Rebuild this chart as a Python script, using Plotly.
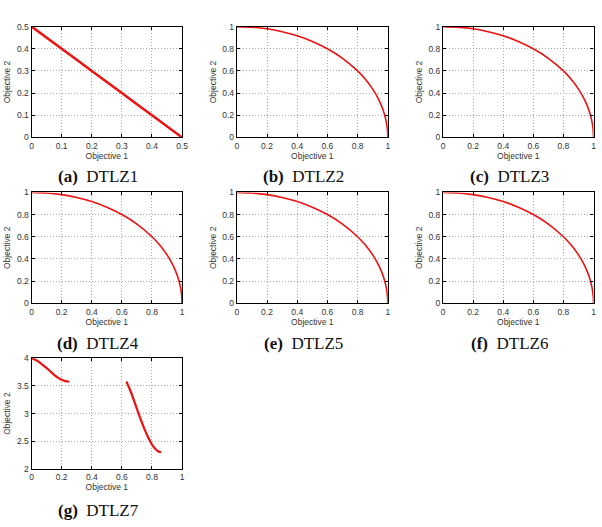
import plotly.graph_objects as go

W, H = 602, 527

# ---- data ----
dtlz1_f1 = [0.0, 0.1, 0.2, 0.3, 0.4, 0.5]
dtlz1_f2 = [0.5, 0.4, 0.3, 0.2, 0.1, 0.0]

circle_f1 = [0.0, 0.1, 0.2, 0.3, 0.4, 0.5, 0.6, 0.7, 0.8, 0.85, 0.9, 0.94, 0.97, 0.99, 0.998, 1.0]
circle_f2 = [1.0, 0.995, 0.98, 0.954, 0.917, 0.866, 0.8, 0.714, 0.6, 0.527, 0.436, 0.341, 0.243, 0.141, 0.06, 0.0]

dtlz7_seg1_f1 = [0.0, 0.025, 0.05, 0.075, 0.1, 0.125, 0.15, 0.175, 0.2, 0.225, 0.25]
dtlz7_seg1_f2 = [4.0, 3.97, 3.93, 3.875, 3.82, 3.76, 3.70, 3.65, 3.61, 3.585, 3.575]
dtlz7_seg2_f1 = [0.63, 0.66, 0.69, 0.72, 0.75, 0.78, 0.80, 0.82, 0.84, 0.86]
dtlz7_seg2_f2 = [3.58, 3.39, 3.16, 2.93, 2.72, 2.54, 2.44, 2.37, 2.32, 2.30]

captions = ["(a)", "(b)", "(c)", "(d)", "(e)", "(f)", "(g)"]
problems = ["DTLZ1", "DTLZ2", "DTLZ3", "DTLZ4", "DTLZ5", "DTLZ6", "DTLZ7"]

x_ticks_a = [0, 0.1, 0.2, 0.3, 0.4, 0.5]
unit_ticks = [0, 0.2, 0.4, 0.6, 0.8, 1]
y_ticks_g = [2, 2.5, 3, 3.5, 4]

# ---- layout geometry (pixels) ----
col_px = [(30, 182.5), (238, 391), (447, 599.5)]
row_px = [(22, 135), (191, 304), (360, 473)]
caption_y = [175, 345, 515]

RED = "#ee1111"

fig = go.Figure()

series = [
    [(dtlz1_f1, dtlz1_f2, 2.5)],
    [(circle_f1, circle_f2, 1.6)],
    [(circle_f1, circle_f2, 1.6)],
    [(circle_f1, circle_f2, 1.6)],
    [(circle_f1, circle_f2, 1.6)],
    [(circle_f1, circle_f2, 1.6)],
    [(dtlz7_seg1_f1, dtlz7_seg1_f2, 2.2), (dtlz7_seg2_f1, dtlz7_seg2_f2, 2.2)],
]

SANS = "Liberation Sans, Arial, sans-serif"
tickfont = dict(family=SANS, size=8.5, color="#333")
axis_common = dict(
    showline=True, linecolor="black", linewidth=1.2, mirror="allticks",
    ticks="inside", ticklen=3, tickcolor="black", tickwidth=1,
    showgrid=True, gridcolor="#a8a8a8", gridwidth=1, griddash="1px,2px",
    zeroline=False, tickfont=tickfont, fixedrange=True,
)

annotations = []
for i in range(7):
    r, c = divmod(i, 3)
    n = i + 1
    xa = "x" if n == 1 else f"x{n}"
    ya = "y" if n == 1 else f"y{n}"
    for (xs, ys, lw) in series[i]:
        fig.add_trace(go.Scatter(x=xs, y=ys, mode="lines", xaxis=xa, yaxis=ya,
                                 line=dict(color=RED, width=lw, shape="spline", smoothing=0.6),
                                 showlegend=False, hoverinfo="skip"))
    x0, x1 = col_px[c]
    y0, y1 = row_px[r]
    xdom = [x0 / W, x1 / W]
    ydom = [1 - y1 / H, 1 - y0 / H]
    if i == 0:
        xr, xt = [0, 0.5], x_ticks_a
        yr, yt = [0, 0.5], x_ticks_a
    elif i == 6:
        xr, xt = [0, 1], unit_ticks
        yr, yt = [2, 4], y_ticks_g
    else:
        xr, xt = [0, 1], unit_ticks
        yr, yt = [0, 1], unit_ticks
    xkey = "xaxis" if n == 1 else f"xaxis{n}"
    ykey = "yaxis" if n == 1 else f"yaxis{n}"
    fig.layout[xkey] = dict(axis_common, domain=xdom, range=xr, tickvals=xt,
                            ticktext=[f"{v:g}" for v in xt], anchor=ya,
                            title=dict(text="Objective 1", standoff=0,
                                       font=dict(family=SANS, size=8.5, color="#333")))
    fig.layout[ykey] = dict(axis_common, domain=ydom, range=yr, tickvals=yt,
                            ticktext=[f"{v:g}" for v in yt], anchor=xa,
                            title=dict(text="Objective 2", standoff=4,
                                       font=dict(family=SANS, size=8.5, color="#333")))
    cx = ((x0 + x1) / 2 - 8.5) / W
    annotations.append(dict(
        x=cx, y=1 - caption_y[r] / H, xref="paper", yref="paper",
        text=f"<b>{captions[i]}</b>&nbsp; {problems[i]}", showarrow=False,
        font=dict(family="Liberation Serif, Times New Roman, serif", size=17, color="#111"),
        xanchor="center", yanchor="middle"))

fig.update_layout(
    width=W, height=H, margin=dict(l=0, r=0, t=0, b=0),
    paper_bgcolor="white", plot_bgcolor="white",
    annotations=annotations,
)

fig.write_html("out.html")
